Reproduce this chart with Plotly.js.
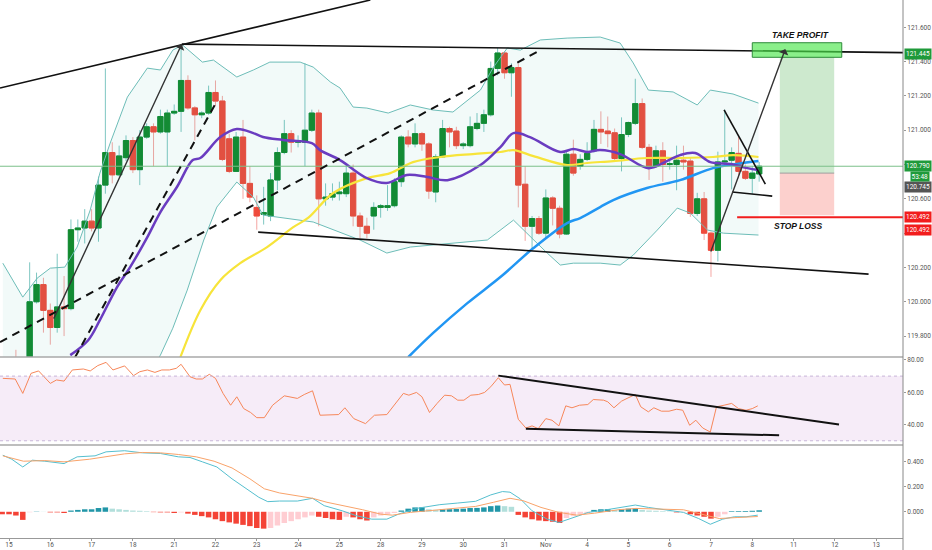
<!DOCTYPE html>
<html>
<head>
<meta charset="utf-8">
<script src="https://cdn.plot.ly/plotly-3.0.1.min.js"></script>
<style>
  html, body { margin: 0; padding: 0; background: #fff; }
  #chart { width: 932px; height: 550px; }
</style>
</head>
<body>
<div id="chart"></div>
<script>
// USD/JPY 4h, bougies numérotées depuis le 15 (6 bougies par jour)
const dayLabels = ['15','16','17','18','21','22','23','24','25','28','29','30','31','Nov','4','5','6','7','8','11','12','13'];

const open = [119.58,119.66,119.60,119.62,120.00,120.10,119.95,119.85,119.97,119.96,
  120.42,120.43,120.47,120.43,120.68,120.87,120.74,120.84,120.94,120.77,
  120.96,121.02,120.99,120.99,121.10,121.11,121.29,121.13,121.09,121.10,
  121.22,121.17,120.95,120.76,120.96,120.69,120.55,120.51,120.50,120.71,
  120.87,120.98,120.93,120.93,121.00,121.10,120.60,120.61,120.63,120.63,
  120.75,120.50,120.44,120.50,120.55,120.55,120.56,120.70,120.96,120.92,
  120.98,120.92,120.64,120.845,121.01,120.995,120.91,120.91,121.01,121.04,
  121.09,121.36,121.45,121.335,121.365,120.685,120.44,120.485,120.40,120.605,
  120.545,120.395,120.86,120.79,120.83,120.88,121.005,120.995,120.985,120.835,
  120.975,121.04,121.155,120.90,120.79,120.88,120.80,120.80,120.825,120.82,
  120.515,120.60,120.40,120.30,120.815,120.825,120.865,120.76,120.72,120.745];
const high = [119.62,119.72,119.66,120.23,120.17,120.14,119.99,120.28,120.15,120.48,
  120.48,120.54,120.54,120.73,121.36,120.93,120.91,120.97,120.96,121.00,
  121.04,121.04,121.12,121.12,121.15,121.50,121.32,121.14,121.11,121.26,
  121.29,121.20,120.98,120.99,121.06,120.79,120.62,120.67,120.75,120.90,
  121.06,121.00,120.97,121.39,121.12,121.12,120.69,120.69,120.70,120.80,
  120.80,120.52,120.49,120.58,120.57,120.68,120.72,120.97,121.00,121.04,
  120.99,120.93,120.86,121.06,121.02,121.02,120.93,121.08,121.10,121.12,
  121.40,121.48,121.46,121.39,121.39,120.79,120.50,120.50,120.655,120.615,
  120.56,120.875,120.945,120.86,120.93,121.06,121.11,121.08,121.01,121.075,
  121.05,121.30,121.185,120.92,120.91,120.93,120.84,120.91,120.91,120.84,
  120.635,120.64,120.41,120.875,121.12,120.90,120.96,120.80,120.79,120.815];
const low = [119.50,119.55,119.52,119.58,119.99,119.82,119.75,119.82,119.80,119.95,
  120.35,120.34,120.41,120.35,120.63,120.69,120.73,120.82,120.75,120.68,
  120.95,120.79,120.98,120.79,121.09,120.99,121.12,120.94,121.07,121.09,
  121.14,120.82,120.75,120.76,120.60,120.58,120.42,120.45,120.47,120.65,
  120.86,120.87,120.90,120.79,120.99,120.44,120.56,120.59,120.59,120.61,
  120.44,120.37,120.37,120.42,120.49,120.53,120.55,120.67,120.90,120.90,
  120.88,120.60,120.58,120.84,120.90,120.89,120.89,120.90,121.00,120.99,
  121.08,121.32,121.30,121.195,120.55,120.355,120.31,120.39,120.37,120.445,
  120.37,120.39,120.735,120.77,120.82,120.87,120.92,120.90,120.82,120.76,
  120.96,121.03,120.89,120.71,120.78,120.70,120.77,120.65,120.77,120.495,
  120.50,120.36,120.145,120.235,120.79,120.655,120.72,120.71,120.63,120.70];
const close = [119.55,119.60,119.62,120.00,120.10,119.95,119.85,119.97,119.96,120.42,
  120.43,120.47,120.43,120.68,120.87,120.74,120.85,120.94,120.77,120.96,
  121.02,120.99,121.08,121.10,121.11,121.29,121.13,121.09,121.10,121.22,
  121.17,120.83,120.76,120.96,120.69,120.61,120.50,120.52,120.71,120.87,
  120.98,120.93,120.94,121.00,121.10,120.60,120.61,120.63,120.64,120.75,
  120.50,120.44,120.40,120.55,120.56,120.56,120.70,120.96,120.92,120.98,
  120.92,120.645,120.845,121.01,120.99,120.91,120.92,121.02,121.04,121.09,
  121.36,121.45,121.335,121.365,120.68,120.44,120.485,120.40,120.605,120.545,
  120.395,120.86,120.75,120.83,120.865,121.005,120.99,120.98,120.835,120.975,
  121.045,121.155,120.90,120.79,120.88,120.80,120.805,120.825,120.815,120.515,
  120.60,120.40,120.30,120.815,120.82,120.87,120.76,120.72,120.75,120.79];

// bandes de Bollinger et moyennes mobiles (indice de bougie, prix)
const bbUpperX = [-0.9,2.0,4.1,6.0,8.1,9.9,11.8,13.2,14.7,17.2,20.1,22.0,23.8,25.2,28.1,29.7,33.1,35.5,37.9,42.3,
  44.2,46.7,48.1,50.0,52.0,55.1,58.3,61.6,64.5,68.5,70.4,72.4,74.3,77.2,81.1,85.9,88.8,90.7,92.9,96.5,100.0,101.9,105.2,108.9];
const bbUpperY = [120.225,120.027,120.138,120.196,120.202,120.319,120.535,120.750,120.925,121.193,121.362,121.351,121.467,121.497,121.397,121.409,121.310,121.351,121.397,121.397,
  121.368,121.281,121.246,121.135,121.129,121.100,121.147,121.118,121.106,121.234,121.368,121.479,121.467,121.526,121.537,121.543,121.508,121.392,121.234,121.223,121.147,121.234,121.211,121.158];
const bbLowerX = [-0.9,10,18,22.0,23.8,25.9,28.3,30.2,33.1,35.5,36.9,39.8,44.2,51.0,54.9,58.3,61.6,65.1,69.5,73.3,
  76.2,78.2,80.1,82.0,85.9,88.8,90.7,94.2,97.1,99.0,101.5,103.8,108.9];
const bbLowerY = [119.20,119.25,119.45,119.689,119.846,120.068,120.360,120.552,120.698,120.610,120.505,120.488,120.465,120.360,120.284,120.319,120.330,120.342,120.360,120.476,
  120.360,120.284,120.214,120.225,120.225,120.214,120.272,120.418,120.546,120.517,120.418,120.400,120.389];
const maPurpleX = [8.9,11.5,13.2,15.7,17.6,20.1,22.0,24.4,26.7,27.8,30.7,33.1,35.5,36.9,39.8,44.0,45.2,48.1,52.0,54.9,
  57.8,60.8,63.7,68.5,71.4,73.3,75.7,80.1,82.0,84.0,85.9,88.8,92.9,95.6,97.5,99.7,101.9,104.8,107.3,108.9];
const maPurpleY = [119.689,119.776,119.893,120.086,120.202,120.377,120.523,120.669,120.826,120.838,120.960,121.007,120.983,120.960,120.943,120.925,120.884,120.826,120.721,120.692,
  120.739,120.727,120.709,120.797,120.902,120.983,120.960,120.873,120.890,120.873,120.884,120.861,120.779,120.820,120.855,120.867,120.814,120.803,120.779,120.768];
const maYellowX = [24.9,27.8,30.7,33.6,37.5,41.3,43.5,47.1,52.0,55.4,58.7,62.7,67.4,71.4,73.3,76.2,81.1,84.0,87.8,92.7,97.5,102.3,105.2,108.9];
const maYellowY = [119.677,119.951,120.126,120.225,120.319,120.435,120.490,120.634,120.721,120.750,120.814,120.844,120.861,120.873,120.884,120.849,120.797,120.809,120.820,120.838,120.838,120.844,120.855,120.844];
const maBlueX = [58.0,61.6,66.6,71.4,76.2,81.1,83.0,85.9,87.8,92.7,97.5,102.3,105.8,108.9];
const maBlueY = [119.677,119.817,119.992,120.144,120.313,120.459,120.488,120.552,120.593,120.663,120.709,120.779,120.803,120.820];

// RSI
const rsiX = [-0.9,0.9,2.0,3.2,4.3,6.0,6.9,8.0,9.2,10.8,11.8,12.9,14.1,15.1,16.8,18.1,19.0,20.1,21.2,22.2,
  23.3,24.3,25.0,26.3,27.2,28.1,29.1,30.0,31.1,32.2,33.1,34.1,35.1,36.0,37.1,38.3,40.0,41.9,42.9,44.1,
  45.2,46.6,47.9,48.8,50.1,51.8,53.1,54.9,56.1,57.3,58.1,59.2,60.0,61.1,62.2,63.3,64.3,65.2,66.1,67.1,
  68.2,69.1,70.0,71.1,72.0,72.8,74.0,75.1,76.0,76.9,78.0,78.9,79.9,80.9,81.8,82.9,84.1,84.9,86.4,87.0,
  87.9,89.0,89.8,91.0,91.8,92.9,93.7,94.8,95.9,97.0,97.9,98.9,99.8,100.8,101.9,102.8,103.9,105.0,106.0,107.1,108.0,108.8];
const rsiY = [68.6,68.2,59.3,71.7,73.2,65.5,67.6,66.9,73.8,74.4,73.2,76.5,78.5,73.8,76.3,70.3,72.7,73.8,72.3,73.8,
  73.8,74.8,77.3,69.6,68.2,68.2,71.1,68.6,59.3,52.0,57.2,49.9,47.5,44.3,44.3,52.0,57.8,56.2,58.6,60.9,
  45.8,46.2,46.2,50.4,43.7,40.6,45.8,46.2,52.4,59.3,58.2,59.9,57.2,47.5,53.1,58.2,57.8,55.1,55.1,58.2,
  58.6,59.9,63.4,69.0,64.5,64.9,43.3,37.9,39.2,37.5,43.7,42.7,39.2,51.6,50.4,52.0,52.4,55.5,55.1,54.1,
  50.4,54.5,56.2,58.6,51.0,47.9,50.4,48.3,48.3,49.5,48.9,39.6,42.7,37.9,35.4,51.0,52.0,53.1,49.9,48.9,49.9,51.6];

// MACD
const macdX = [-0.9,0.4,2.0,3.4,5.2,8.0,9.9,12.5,14.1,16.8,19.4,22.0,24.6,26.3,28.1,30.2,32.4,34.5,36.3,37.6,
  39.3,41.9,44.1,45.8,48.4,50.5,52.7,54.9,56.6,59.2,62.6,65.2,67.8,70.0,71.7,72.8,74.3,76.0,78.2,79.9,
  81.6,84.2,86.8,89.0,91.0,92.9,95.4,98.0,100.2,101.9,103.7,105.4,107.1,108.8];
const macdY = [0.453,0.421,0.359,0.413,0.405,0.386,0.440,0.448,0.480,0.489,0.472,0.467,0.440,0.435,0.400,0.359,0.264,0.184,0.116,0.081,
  0.086,0.086,0.108,0.049,0.008,-0.032,-0.059,-0.059,-0.019,0.027,0.057,0.070,0.084,0.135,0.162,0.157,0.103,0.008,-0.059,-0.086,
  -0.054,-0.005,0.016,0.035,0.054,0.035,0.016,-0.005,-0.054,-0.100,-0.059,-0.040,-0.040,-0.027];
const signalX = [-0.9,2.1,5.2,8.0,11.7,14.2,16.8,19.4,22.0,24.6,27.2,29.8,32.4,35.0,37.1,39.3,41.9,44.1,46.2,48.8,
  51.4,54.0,55.7,58.3,60.9,64.3,67.8,70.4,72.8,74.7,77.3,79.9,82.5,85.1,88.5,91.1,94.6,98.0,100.6,103.2,105.8,108.8];
const signalY = [0.448,0.405,0.410,0.400,0.421,0.440,0.464,0.475,0.472,0.459,0.440,0.405,0.351,0.264,0.184,0.151,0.130,0.108,0.076,0.049,
  0.016,-0.019,-0.027,-0.005,0.008,0.022,0.043,0.076,0.108,0.089,0.035,-0.005,-0.027,-0.011,0.016,0.027,0.022,0.016,-0.019,-0.054,-0.046,-0.038];
// histogramme, une valeur par bougie à partir de l'indice -1
const histStart = -1;
const histY = [-0.02,-0.02,-0.03,-0.065,-0.004,0.002,0.001,-0.005,-0.005,-0.01,
  0.01,0.015,0.02,0.02,0.03,0.035,0.025,0.02,0.015,0.01,
  0.008,0.005,-0.003,-0.005,-0.005,-0.01,-0.005,-0.015,-0.025,-0.035,
  -0.045,-0.06,-0.075,-0.085,-0.095,-0.105,-0.115,-0.13,-0.135,-0.13,
  -0.11,-0.09,-0.075,-0.06,-0.045,-0.03,-0.04,-0.05,-0.06,-0.065,
  -0.04,-0.045,-0.06,-0.07,-0.045,-0.03,-0.02,-0.01,0.01,0.025,
  0.035,0.036,0.02,0.015,0.02,0.021,0.022,0.025,0.03,0.031,
  0.035,0.045,0.05,0.045,0.04,-0.025,-0.045,-0.06,-0.07,-0.075,
  -0.08,-0.09,-0.05,-0.035,-0.02,-0.01,0.015,0.02,0.021,0.015,
  0.02,0.025,0.026,0.015,0.01,0.008,0.005,0.003,-0.005,-0.003,
  -0.02,-0.03,-0.04,-0.055,-0.04,-0.02,0.005,0.0055,0.006,0.008,0.012];

// tracés manuels : [k0, p0, k1, p1]
const trendLines = [
  [-1.31, 121.246, 52.5, 121.759],
  [25.1, 121.502, 131, 121.452],
  [36.2, 120.406, 124.9, 120.161],
  [103.9, 121.118, 109.9, 120.686],
  [105.1, 120.640, 110.9, 120.616]
];
const dashedLines = [
  [-1.31, 119.765, 76.7, 121.456],
  [9.6, 119.677, 29.9, 121.147]
];
const arrows = [
  [6.4, 119.893, 25.1, 121.502],
  [101.9, 120.284, 112.8, 121.473]
];
const rsiLines = [
  [71.1, 70.3, 120.6, 40.0],
  [75.1, 37.5, 111.9, 33.4]
];
const takeProfit = 121.445, entry = 120.750, stopLoss = 120.492, lastPrice = 120.790, prevClose = 120.745;

const idx = open.map((_, i) => i);
const bodyHi = open.map((o, i) => Math.max(o, close[i]));
const bodyLo = open.map((o, i) => Math.min(o, close[i]));
const histX = histY.map((_, i) => i + histStart);
const histCol = histY.map((v, i) => {
  const prev = i > 0 ? histY[i - 1] : v;
  if (v >= 0) return v >= prev ? '#2196a8' : '#b2dfdb';
  return v <= prev ? '#f44336' : '#ffcdd2';
});

const green = '#138a2e', red = '#ef4b3c';
const data = [
  {type: 'scatter', x: bbUpperX, y: bbUpperY, mode: 'lines', line: {color: '#6dbdb8', width: 1}, hoverinfo: 'skip'},
  {type: 'scatter', x: bbLowerX, y: bbLowerY, mode: 'lines', line: {color: '#6dbdb8', width: 1},
   fill: 'tonexty', fillcolor: 'rgba(38,166,154,0.06)', hoverinfo: 'skip'},
  {type: 'candlestick', x: idx, open: open, high: high, low: low, close: close,
   increasing: {line: {color: '#7fc7c2', width: 1}, fillcolor: '#7fc7c2'},
   decreasing: {line: {color: '#f4a6a3', width: 1}, fillcolor: '#f4a6a3'}},
  {type: 'candlestick', x: idx, open: open, high: bodyHi, low: bodyLo, close: close,
   increasing: {line: {color: green, width: 1}, fillcolor: green},
   decreasing: {line: {color: red, width: 1}, fillcolor: red}},
  {type: 'scatter', x: maBlueX, y: maBlueY, mode: 'lines', line: {color: '#2196f3', width: 2.5, shape: 'spline'}},
  {type: 'scatter', x: maYellowX, y: maYellowY, mode: 'lines', line: {color: '#f7e43a', width: 2.2, shape: 'spline'}},
  {type: 'scatter', x: maPurpleX, y: maPurpleY, mode: 'lines', line: {color: '#6a3cc0', width: 2.5, shape: 'spline'}},
  {type: 'scatter', x: rsiX, y: rsiY, mode: 'lines', line: {color: '#f7875a', width: 1}, yaxis: 'y2'},
  {type: 'bar', x: histX, y: histY, marker: {color: histCol, line: {width: 0}}, width: 0.8, yaxis: 'y3'},
  {type: 'scatter', x: macdX, y: macdY, mode: 'lines', line: {color: '#55bfcf', width: 1}, yaxis: 'y3'},
  {type: 'scatter', x: signalX, y: signalY, mode: 'lines', line: {color: '#f9a36a', width: 1}, yaxis: 'y3'}
];

const shapes = [];
// zone objectif / stop
shapes.push({type: 'rect', xref: 'x', yref: 'y', x0: 112, x1: 119.9, y0: entry, y1: takeProfit - 0.018,
  fillcolor: 'rgba(76,175,80,0.28)', line: {width: 0}, layer: 'below'});
shapes.push({type: 'rect', xref: 'x', yref: 'y', x0: 112, x1: 119.9, y0: stopLoss + 0.013, y1: entry,
  fillcolor: 'rgba(244,67,54,0.25)', line: {width: 0}, layer: 'below'});
shapes.push({type: 'line', xref: 'x', yref: 'y', x0: 112, x1: 119.9, y0: entry, y1: entry, line: {color: '#9e9e9e', width: 1}});
shapes.push({type: 'line', xref: 'paper', yref: 'y', x0: 0, x1: 1, y0: lastPrice, y1: lastPrice, line: {color: '#7cc08a', width: 1}});
trendLines.forEach(l => shapes.push({type: 'line', xref: 'x', yref: 'y', x0: l[0], y0: l[1], x1: l[2], y1: l[3],
  line: {color: '#111', width: 1.6}}));
dashedLines.forEach(l => shapes.push({type: 'line', xref: 'x', yref: 'y', x0: l[0], y0: l[1], x1: l[2], y1: l[3],
  line: {color: '#111', width: 2, dash: '8px,6px'}}));
shapes.push({type: 'line', xref: 'x', yref: 'y', x0: 105.8, x1: 131, y0: stopLoss, y1: stopLoss, line: {color: '#f21d1d', width: 2}});
shapes.push({type: 'rect', xref: 'x', yref: 'y', x0: 108, x1: 121, y0: 121.425, y1: 121.51,
  fillcolor: 'rgba(76,230,76,0.65)', line: {color: '#2e8b3a', width: 1}});
// RSI
shapes.push({type: 'rect', xref: 'paper', yref: 'y2', x0: 0, x1: 1, y0: 30, y1: 70, fillcolor: 'rgba(156,39,176,0.09)', line: {width: 0}, layer: 'below'});
[70, 30].forEach(v => shapes.push({type: 'line', xref: 'paper', yref: 'y2', x0: 0, x1: 1, y0: v, y1: v,
  line: {color: '#c8b6d8', width: 1, dash: 'dot'}}));
rsiLines.forEach(l => shapes.push({type: 'line', xref: 'x', yref: 'y2', x0: l[0], y0: l[1], x1: l[2], y1: l[3],
  line: {color: '#111', width: 2}}));
// séparateurs
[0.3364, 0.1729].forEach(v => shapes.push({type: 'line', xref: 'paper', yref: 'paper', x0: 0, x1: 1, y0: v, y1: v,
  line: {color: '#a8a8a8', width: 1.5}}));
shapes.push({type: 'line', xref: 'paper', yref: 'paper', x0: 1, x1: 1, y0: -0.03, y1: 1, line: {color: '#888', width: 1}});

const annotations = [];
arrows.forEach(a => annotations.push({xref: 'x', yref: 'y', axref: 'x', ayref: 'y', x: a[2], y: a[3], ax: a[0], ay: a[1],
  text: '', showarrow: true, arrowhead: 1, arrowsize: 1.2, arrowwidth: 1.4, arrowcolor: '#333'}));
annotations.push({xref: 'x', yref: 'y', x: 115, y: 121.555, text: '<b><i>TAKE PROFIT</i></b>', showarrow: false,
  font: {size: 8.5, color: '#111', family: 'Liberation Sans'}});
annotations.push({xref: 'x', yref: 'y', x: 114.7, y: 120.44, text: '<b><i>STOP LOSS</i></b>', showarrow: false,
  font: {size: 8.5, color: '#111', family: 'Liberation Sans'}});
const tagFont = {size: 6.5, color: '#fff', family: 'Roboto'};
function priceTag(val, bg, shift, txt) {
  annotations.push({xref: 'paper', yref: 'y', x: 1, y: val, xanchor: 'left', xshift: 1, yshift: shift, showarrow: false,
    text: txt || val.toFixed(3), bgcolor: bg, borderpad: 1, font: tagFont});
}
priceTag(takeProfit, '#1f9a3a', 0);
priceTag(lastPrice, '#1f9a3a', 0);
priceTag(prevClose, '#555', -13);
priceTag(stopLoss, '#f21d1d', 0);
priceTag(stopLoss, '#f21d1d', -12.5);
annotations.push({xref: 'paper', yref: 'y', x: 1, y: lastPrice, xanchor: 'right', xshift: 27, yshift: -10.5, showarrow: false,
  text: '53:48', bgcolor: '#1f9a3a', borderpad: 0.5, font: tagFont});

const tickFont = {size: 6.5, color: '#555', family: 'Roboto'};
const layout = {
  width: 932, height: 550,
  margin: {l: 0, r: 29, t: 0, b: 12, pad: 0},
  paper_bgcolor: '#fff', plot_bgcolor: '#fff',
  showlegend: false,
  boxgap: 0.15, boxgroupgap: 0.1,
  bargap: 0.2,
  xaxis: {
    range: [-1.31, 129.9], anchor: 'y3', rangeslider: {visible: false},
    tickvals: dayLabels.map((_, i) => i * 6), ticktext: dayLabels,
    ticks: 'outside', ticklen: 2, tickcolor: '#999', tickfont: tickFont, ticklabelstandoff: -2,
    showgrid: false, zeroline: false, showline: true, linecolor: '#999'
  },
  yaxis: {
    domain: [0.3364, 1], range: [119.678, 121.759], side: 'right', anchor: 'x',
    dtick: 0.2, tickformat: '.3f', ticks: 'outside', ticklen: 2, tickcolor: '#999', tickfont: tickFont,
    showgrid: false, zeroline: false
  },
  yaxis2: {
    domain: [0.1729, 0.3364], range: [27.4, 81.8], side: 'right', anchor: 'x',
    tickvals: [40, 60, 80], tickformat: '.2f', ticks: 'outside', ticklen: 2, tickcolor: '#999', tickfont: tickFont,
    showgrid: false, zeroline: false
  },
  yaxis3: {
    domain: [0, 0.1729], range: [-0.21, 0.535], side: 'right', anchor: 'x',
    tickvals: [0, 0.2, 0.4], tickformat: '.3f', ticks: 'outside', ticklen: 2, tickcolor: '#999', tickfont: tickFont,
    showgrid: false, zeroline: false
  },
  shapes: shapes,
  annotations: annotations
};

Plotly.newPlot('chart', data, layout, {staticPlot: true, displayModeBar: false});
</script>
</body>
</html>
